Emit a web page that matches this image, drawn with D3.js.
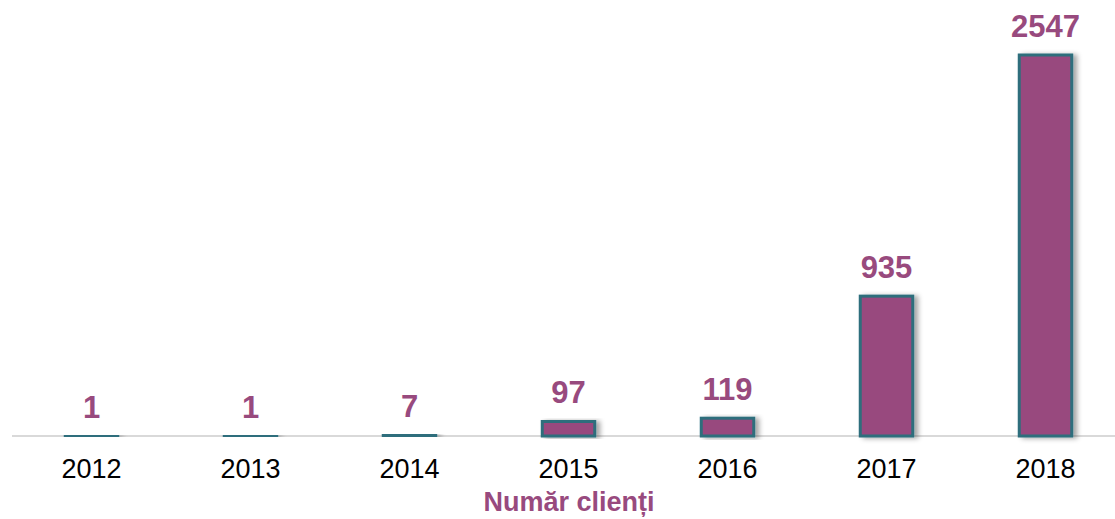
<!DOCTYPE html>
<html>
<head>
<meta charset="utf-8">
<script src="https://cdn.jsdelivr.net/npm/d3@7"></script>
<style>
  body { margin: 0; background: #fff; }
  svg { font-family: Arial, "Liberation Sans", sans-serif; }
</style>
</head>
<body>
<div id="chart"></div>
<script>
// data
var years = ["2012", "2013", "2014", "2015", "2016", "2017", "2018"];
var clients = [1, 1, 7, 97, 119, 935, 2547];
var seriesName = "Număr clienți";

var width = 1115, height = 519;
var purple = "#984a7e", teal = "#2d6e7c";

var svg = d3.select("#chart").append("svg")
  .attr("width", width)
  .attr("height", height);

// soft shadow to the right of each bar
var defs = svg.append("defs");
var f = defs.append("filter").attr("id", "shadow")
  .attr("x", "-20%").attr("y", "-20%").attr("width", "160%").attr("height", "140%");
f.append("feDropShadow")
  .attr("dx", 4).attr("dy", 1).attr("stdDeviation", 2.5)
  .attr("flood-color", "#000").attr("flood-opacity", 0.35);

var x = d3.scaleBand().domain(years).range([12, 1125]).paddingInner(0.67).paddingOuter(0.335);
var y = d3.scaleLinear().domain([0, d3.max(clients)]).range([436, 55]);

// baseline
svg.append("line")
  .attr("x1", 12).attr("x2", width)
  .attr("y1", y(0)).attr("y2", y(0))
  .attr("stroke", "#d9d9d9").attr("stroke-width", 2);

var data = years.map(function (d, i) { return { year: d, value: clients[i] }; });

svg.selectAll("rect.bar").data(data).join("rect")
  .attr("class", "bar")
  .attr("x", function (d) { return x(d.year); })
  .attr("width", x.bandwidth())
  .attr("y", function (d) { return y(d.value); })
  .attr("height", function (d) { return y(0) - y(d.value); })
  .attr("fill", purple)
  .attr("stroke", teal)
  .attr("stroke-width", 3)
  .attr("filter", "url(#shadow)");

svg.selectAll("text.val").data(data).join("text")
  .attr("class", "val")
  .attr("x", function (d) { return x(d.year) + x.bandwidth() / 2; })
  .attr("y", function (d) { return y(d.value) - 18; })
  .attr("text-anchor", "middle")
  .attr("fill", purple)
  .style("font-size", "31px")
  .style("font-weight", "bold")
  .text(function (d) { return d.value; });

// x axis labels
var xAxis = d3.axisBottom(x).tickSize(0).tickPadding(0);
var gx = svg.append("g")
  .attr("transform", "translate(0," + y(0) + ")")
  .call(xAxis)
  .attr("font-size", 27)
  .attr("font-family", "Arial, 'Liberation Sans', sans-serif");
gx.select(".domain").remove();
gx.selectAll("text")
  .attr("dy", 0)
  .attr("y", 42)
  .attr("fill", "#000");

svg.append("text")
  .attr("x", 569)
  .attr("y", 511)
  .attr("text-anchor", "middle")
  .attr("fill", purple)
  .style("font-size", "27px")
  .style("font-weight", "bold")
  .text(seriesName);
</script>
</body>
</html>
